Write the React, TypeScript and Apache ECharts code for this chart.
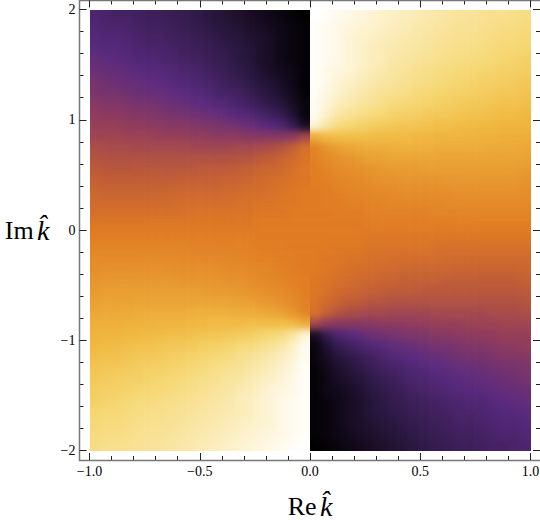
import React, { useEffect, useRef } from "react";
import * as echarts from "echarts";

const xTickLabels = ["−1.0", "−0.5", "0.0", "0.5", "1.0"];
const yTickLabels = ["−2", "−1", "0", "1", "2"];
const phaseColors = ["#000000","#2f1a48","#5a2a80","#923c5c","#bd5a38","#e07a22","#e89a30","#f0b840","#f5d670","#fae9ae","#ffffff"];
// phase shade (percent) by row, top row first, left to right
const phaseRows: number[][] = [
[17,16,15,15,14,13,13,12,11,10,9,8,7,6,5,4,3,2,1,0,100,99,98,97,96,95,94,93,92,91,90,89,88,87,87,86,85,85,84,83],
[18,17,17,16,15,14,14,13,12,11,10,9,8,7,6,5,4,3,2,1,99,98,97,96,95,94,93,92,91,90,89,88,87,86,86,85,84,83,83,82],
[19,18,18,17,16,15,15,14,13,12,11,10,9,8,7,6,5,3,2,1,99,98,97,95,94,93,92,91,90,89,88,87,86,85,85,84,83,82,82,81],
[20,19,19,18,17,16,16,15,14,13,12,11,10,9,8,6,5,3,2,1,99,98,97,95,94,92,91,90,89,88,87,86,85,84,84,83,82,81,81,80],
[22,21,20,19,18,18,17,16,15,14,13,12,11,9,8,6,5,3,2,1,99,98,97,95,94,92,91,89,88,87,86,85,84,83,82,82,81,80,79,78],
[23,22,22,21,20,19,19,18,17,16,15,13,12,10,9,7,5,4,3,1,99,97,96,95,93,91,90,88,87,85,84,83,82,81,81,80,79,78,78,77],
[25,24,23,22,22,21,20,19,18,17,16,15,13,12,10,8,7,5,3,1,99,97,95,93,92,90,88,87,85,84,83,82,81,80,79,78,78,77,76,75],
[26,25,25,24,23,22,22,21,20,19,18,16,15,14,12,10,8,6,4,1,99,96,94,92,90,88,86,85,84,82,81,80,79,78,78,77,76,75,75,74],
[28,27,27,26,25,25,24,23,22,21,20,19,18,16,14,12,10,8,5,2,98,95,92,90,88,86,84,82,81,80,79,78,77,76,75,75,74,73,73,72],
[30,29,29,28,27,27,26,25,25,24,23,22,21,19,18,16,14,11,7,2,98,93,89,86,84,82,81,79,78,77,76,75,75,74,73,73,72,71,71,70],
[31,31,31,30,30,29,29,28,28,27,26,26,25,24,23,21,19,17,12,5,95,88,83,81,79,77,76,75,74,74,73,72,72,71,71,70,70,69,69,69],
[33,33,33,32,32,32,31,31,31,30,30,29,29,29,28,28,28,28,29,34,66,71,72,72,72,72,71,71,71,70,70,69,69,69,68,68,68,67,67,67],
[36,35,35,35,34,34,34,34,34,33,33,33,33,34,34,35,36,38,42,47,53,58,62,64,65,66,66,67,67,67,67,66,66,66,66,66,65,65,65,64],
[38,37,37,37,37,37,37,37,37,37,37,37,37,38,38,40,41,43,45,48,52,55,57,59,60,62,62,63,63,63,63,63,63,63,63,63,63,63,63,62],
[40,39,39,39,39,39,39,39,39,39,40,40,40,41,42,43,44,45,47,49,51,53,55,56,57,58,59,60,60,60,61,61,61,61,61,61,61,61,61,60],
[42,41,41,41,41,41,41,41,42,42,42,42,43,43,44,45,46,47,48,49,51,52,53,54,55,56,57,57,58,58,58,58,59,59,59,59,59,59,59,58],
[44,43,43,43,43,43,43,44,44,44,44,44,45,45,46,46,47,48,49,50,50,51,52,53,54,54,55,55,56,56,56,56,56,57,57,57,57,57,57,56],
[45,45,45,45,45,45,45,45,46,46,46,46,46,47,47,48,48,49,49,50,50,51,51,52,52,53,53,54,54,54,54,54,55,55,55,55,55,55,55,55],
[47,47,47,47,47,47,47,47,47,48,48,48,48,48,48,49,49,49,50,50,50,50,51,51,51,52,52,52,52,52,52,53,53,53,53,53,53,53,53,53],
[49,49,49,49,49,49,49,49,49,49,49,49,49,49,49,50,50,50,50,50,50,50,50,50,50,51,51,51,51,51,51,51,51,51,51,51,51,51,51,51],
[51,51,51,51,51,51,51,51,51,51,51,51,51,51,51,50,50,50,50,50,50,50,50,50,50,49,49,49,49,49,49,49,49,49,49,49,49,49,49,49],
[53,53,53,53,53,53,53,53,53,52,52,52,52,52,52,51,51,51,50,50,50,50,49,49,49,48,48,48,48,48,48,47,47,47,47,47,47,47,47,47],
[55,55,55,55,55,55,55,55,54,54,54,54,54,53,53,52,52,51,51,50,50,49,49,48,48,47,47,46,46,46,46,46,45,45,45,45,45,45,45,45],
[56,57,57,57,57,57,57,56,56,56,56,56,55,55,54,54,53,52,51,50,50,49,48,47,46,46,45,45,44,44,44,44,44,43,43,43,43,43,43,44],
[58,59,59,59,59,59,59,59,58,58,58,58,57,57,56,55,54,53,52,51,49,48,47,46,45,44,43,43,42,42,42,42,41,41,41,41,41,41,41,42],
[60,61,61,61,61,61,61,61,61,61,60,60,60,59,58,57,56,55,53,51,49,47,45,44,43,42,41,40,40,40,39,39,39,39,39,39,39,39,39,40],
[62,63,63,63,63,63,63,63,63,63,63,63,63,62,62,60,59,57,55,52,48,45,43,41,40,38,38,37,37,37,37,37,37,37,37,37,37,37,37,38],
[64,65,65,65,66,66,66,66,66,67,67,67,67,66,66,65,64,62,58,53,47,42,38,36,35,34,34,33,33,33,33,34,34,34,34,34,35,35,35,36],
[67,67,67,68,68,68,69,69,69,70,70,71,71,71,72,72,72,72,71,66,34,29,28,28,28,28,29,29,29,30,30,31,31,31,32,32,32,33,33,33],
[69,69,69,70,70,71,71,72,72,73,74,74,75,76,77,79,81,83,88,95,5,12,17,19,21,23,24,25,26,26,27,28,28,29,29,30,30,31,31,31],
[70,71,71,72,73,73,74,75,75,76,77,78,79,81,82,84,86,89,93,98,2,7,11,14,16,18,19,21,22,23,24,25,25,26,27,27,28,29,29,30],
[72,73,73,74,75,75,76,77,78,79,80,81,82,84,86,88,90,92,95,98,2,5,8,10,12,14,16,18,19,20,21,22,23,24,25,25,26,27,27,28],
[74,75,75,76,77,78,78,79,80,81,82,84,85,86,88,90,92,94,96,99,1,4,6,8,10,12,14,15,16,18,19,20,21,22,22,23,24,25,25,26],
[75,76,77,78,78,79,80,81,82,83,84,85,87,88,90,92,93,95,97,99,1,3,5,7,8,10,12,13,15,16,17,18,19,20,21,22,22,23,24,25],
[77,78,78,79,80,81,81,82,83,84,85,87,88,90,91,93,95,96,97,99,1,3,4,5,7,9,10,12,13,15,16,17,18,19,19,20,21,22,22,23],
[78,79,80,81,82,82,83,84,85,86,87,88,89,91,92,94,95,97,98,99,1,2,3,5,6,8,9,11,12,13,14,15,16,17,18,18,19,20,21,22],
[80,81,81,82,83,84,84,85,86,87,88,89,90,91,92,94,95,97,98,99,1,2,3,5,6,8,9,10,11,12,13,14,15,16,16,17,18,19,19,20],
[81,82,82,83,84,85,85,86,87,88,89,90,91,92,93,94,95,97,98,99,1,2,3,5,6,7,8,9,10,11,12,13,14,15,15,16,17,18,18,19],
[82,83,83,84,85,86,86,87,88,89,90,91,92,93,94,95,96,97,98,99,1,2,3,4,5,6,7,8,9,10,11,12,13,14,14,15,16,17,17,18],
[83,84,85,85,86,87,87,88,89,90,91,92,93,94,95,96,97,98,99,100,0,1,2,3,4,5,6,7,8,9,10,11,12,13,13,14,15,15,16,17],
];

const PAD = 2; // cells kept beyond the clipped edge so the softening does not fade at the borders
const CELL = 441 / 40;
const PLOT = { left: 89.5, top: 9.5, width: 441, height: 441, outerBoundsMode: "none" };

function heatOption(colStart: number, colEnd: number) {
  const data: number[][] = [];
  const nRows = phaseRows.length;
  const nCols = colEnd - colStart;
  for (let r = -PAD; r < nRows + PAD; r++) {
    const row = phaseRows[Math.max(0, Math.min(nRows - 1, r))];
    for (let c = -PAD; c < nCols + PAD; c++) {
      const src = colStart + Math.max(0, Math.min(nCols - 1, c));
      data.push([c + PAD, nRows + PAD - 1 - r, row[src]]);
    }
  }
  return {
    animation: false,
    grid: { left: 0, top: 0, right: 0, bottom: 0, outerBoundsMode: "none" },
    xAxis: { type: "category", data: Array.from({ length: nCols + 2 * PAD }, (_, i) => i), show: false },
    yAxis: { type: "category", data: Array.from({ length: nRows + 2 * PAD }, (_, i) => i), show: false },
    visualMap: { show: false, min: 0, max: 100, dimension: 2, inRange: { color: phaseColors } },
    series: [{ type: "heatmap", data, progressive: 0, itemStyle: { borderWidth: 0 }, emphasis: { disabled: true } }],
  };
}

function axisBase(kind: "x" | "y", position: string, interval: number, tickLength: number) {
  const offsets: Record<string, number> = { bottom: 9.5, top: 9, left: 10, right: 9.5 };
  return {
    type: "value",
    min: kind === "x" ? -1 : -2,
    max: kind === "x" ? 1 : 2,
    interval,
    position,
    offset: offsets[position],
    axisLine: { show: true, onZero: false, lineStyle: { color: "#777", width: 1 } },
    axisTick: { show: true, inside: true, length: tickLength, lineStyle: { color: "#222", width: 1 } },
    splitLine: { show: false },
    axisLabel: { show: false },
  };
}

export default function App() {
  const axesRef = useRef<HTMLDivElement>(null);
  const minorRef = useRef<HTMLDivElement>(null);
  const leftRef = useRef<HTMLDivElement>(null);
  const rightRef = useRef<HTMLDivElement>(null);
  useEffect(() => {
    const left = echarts.init(leftRef.current!, undefined, { renderer: "svg" });
    const right = echarts.init(rightRef.current!, undefined, { renderer: "svg" });
    const minorChart = echarts.init(minorRef.current!, undefined, { renderer: "svg" });
    const chart = echarts.init(axesRef.current!, undefined, { renderer: "svg" });
    left.setOption(heatOption(0, 20));
    right.setOption(heatOption(20, 40));
    minorChart.setOption({
      animation: false,
      grid: PLOT,
      xAxis: [axisBase("x", "bottom", 0.1, 4), axisBase("x", "top", 0.1, 4)],
      yAxis: [axisBase("y", "left", 0.2, 4), axisBase("y", "right", 0.2, 4)],
    });
    const tickFont = { fontFamily: "Liberation Serif", fontSize: 14, color: "#000", margin: 4, hideOverlap: false };
    const nameStyle = { rich: { r: { fontFamily: "Liberation Serif", fontSize: 26, color: "#000" }, k: { fontFamily: "Liberation Serif", fontStyle: "italic", fontSize: 28, color: "#000" } } };
    chart.setOption({
      animation: false,
      grid: PLOT,
      xAxis: [
        {
          ...axisBase("x", "bottom", 0.5, 7),
          axisLabel: { show: true, ...tickFont, alignMinLabel: "center", alignMaxLabel: "center", formatter: (v: number) => xTickLabels[Math.round((v + 1) * 2)] },
          name: "{r|Re} {k|k̂}", nameLocation: "middle", nameGap: 32, nameTextStyle: nameStyle,
        },
        axisBase("x", "top", 0.5, 7),
      ],
      yAxis: [
        {
          ...axisBase("y", "left", 1, 7),
          axisLabel: { show: true, ...tickFont, formatter: (v: number) => yTickLabels[v + 2] },
          name: "{r|Im} {k|k̂}", nameLocation: "middle", nameGap: 30, nameRotate: 0, nameTextStyle: nameStyle,
        },
        axisBase("y", "right", 1, 7),
      ],
      graphic: [{ type: "rect", shape: { x: 79.5, y: 0.5, width: 462, height: 460 }, style: { fill: "none", stroke: "#777", lineWidth: 1.5 }, silent: true }],
    });
    return () => { chart.dispose(); minorChart.dispose(); left.dispose(); right.dispose(); };
  }, []);
  const side = PAD * CELL;
  const layer = { position: "absolute" as const, left: -side, top: -side, width: 20 * CELL + 2 * side, height: 40 * CELL + 2 * side, filter: "blur(3.5px)" };
  const overlay = { position: "absolute" as const, left: 0, top: 0, width: 540, height: 523 };
  return (
    <div style={{ position: "fixed", left: 0, top: 0, width: 540, height: 523, background: "#fff", overflow: "hidden" }}>
      <div style={{ position: "absolute", left: 90, top: 10, width: 220, height: 441, overflow: "hidden" }}>
        <div ref={leftRef} style={{ ...layer, left: -side - 0.5 }} />
      </div>
      <div style={{ position: "absolute", left: 310, top: 10, width: 221, height: 441, overflow: "hidden" }}>
        <div ref={rightRef} style={layer} />
      </div>
      <div ref={minorRef} style={overlay} />
      <div ref={axesRef} style={overlay} />
    </div>
  );
}
